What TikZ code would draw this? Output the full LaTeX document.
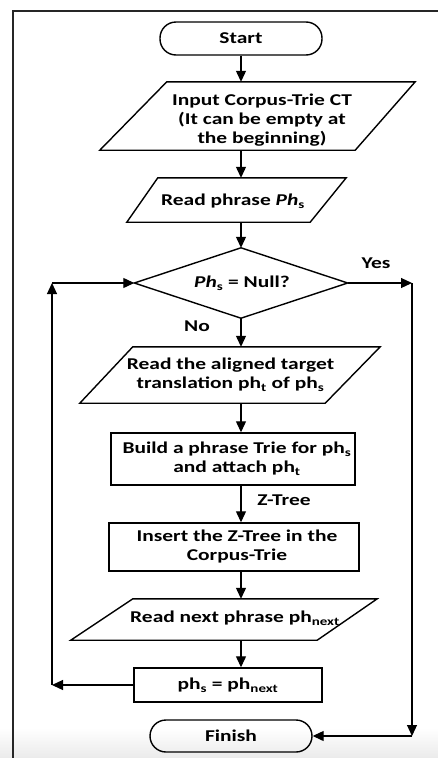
\documentclass[tikz,border=0pt]{standalone}
\usepackage{fontspec}
\setmainfont{Carlito}[FakeStretch=1.3]
\usetikzlibrary{arrows.meta,calc}

\begin{document}
\begin{tikzpicture}[x=1pt,y=-1pt,
  every node/.style={font=\bfseries\fontsize{16.5}{19}\selectfont, align=center, inner sep=0pt},
  box/.style={draw, line width=1.4pt},
  term/.style={draw, line width=1.4pt, rounded corners=16pt},
  frame/.style={},
  outline/.style={line width=1.4pt, line join=miter},
  edge/.style={line width=1.2pt, -{Triangle[length=11pt,width=10pt]}},
  lbl/.style={}
]
\useasboundingbox (0,0) rectangle (438,758);

% faint shading along the bottom edge
\shade[top color=white, bottom color=black!8] (0,728) rectangle (438,758);

% page border (top and left)
\draw[line width=2pt, black!85] (13,758) -- (13,10.5) -- (438,10.5);

% terminals
\node[term, minimum width=162pt, minimum height=33pt] (start) at (241,38.5) {Start};
\node[term, minimum width=162pt, minimum height=32pt] (finish) at (231,736) {Finish};

% input parallelogram
\node[frame, minimum width=315pt, minimum height=68pt] (input) at (257.5,116) {};
\draw[outline] ($(input.north west)+(67,0)$) -- (input.north east)
  -- ($(input.south east)+(-60,0)$) -- (input.south west) -- cycle;
\node (inputtext) at (262,120) {Input Corpus-Trie CT\\(It can be empty at\\the beginning)};

% read phrase parallelogram
\node[frame, minimum width=219pt, minimum height=44pt] (read) at (236.5,200) {};
\draw[outline] ($(read.north west)+(31,0)$) -- (read.north east)
  -- ($(read.south east)+(-36,0)$) -- (read.south west) -- cycle;
\node (readtext) at (233,201) {Read phrase \textit{Ph}\textsubscript{s}};

% decision
\node[frame, minimum width=213pt, minimum height=70pt] (dec) at (241,283) {};
\draw[outline] (dec.north) -- (dec.east) -- (dec.south) -- (dec.west) -- cycle;
\node (dectext) at (242,283) {\textit{Ph}\textsubscript{s} = Null?};

% aligned translation parallelogram
\node[frame, minimum width=300pt, minimum height=56pt] (aligned) at (230,375) {};
\draw[outline] ($(aligned.north west)+(53,0)$) -- (aligned.north east)
  -- ($(aligned.south east)+(-55,0)$) -- (aligned.south west) -- cycle;
\node (alignedtext) at (230.5,375) {Read the aligned target\\translation ph\textsubscript{t} of ph\textsubscript{s}};

% process boxes
\node[box, minimum width=244pt, minimum height=52pt] (build) at (233,459)
  {\hspace{8pt}Build a phrase Trie for ph\textsubscript{s}\\\hspace{8pt}and attach ph\textsubscript{t}};
\node[box, minimum width=250pt, minimum height=48pt] (insert) at (234,547)
  {\hspace{6pt}Insert the Z-Tree in the\\\hspace{6pt}Corpus-Trie};

% read next parallelogram
\node[frame, minimum width=306pt, minimum height=41pt] (next) at (224,619.5) {};
\draw[outline] ($(next.north west)+(62,0)$) -- (next.north east)
  -- ($(next.south east)+(-60,0)$) -- (next.south west) -- cycle;
\node (nexttext) at (235,618) {Read next phrase ph\textsubscript{next}};

\node[box, minimum width=188pt, minimum height=34pt] (phs) at (228,685)
  {ph\textsubscript{s} = ph\textsubscript{next}};

% main column connectors
\draw[edge] (start.south) -- (start.south |- input.north);
\draw[edge] (input.south -| dec) -- (read.north -| dec);
\draw[edge] (read.south -| dec) -- (dec.north);
\draw[edge] (dec.south) -- (aligned.north -| dec);
\draw[edge] (aligned.south -| dec) -- (build.north -| dec);
\draw[edge] (build.south -| dec) -- (insert.north -| dec);
\draw[edge] (insert.south -| dec) -- (next.north -| dec);
\draw[edge] (next.south -| dec) -- (phs.north -| dec);

% labels
\node[lbl] (yeslbl) at (376,263) {Yes};
\node[lbl] (nolbl) at (197,326) {No};
\node[lbl] (ztree) at (284,500) {Z-Tree};

% yes branch to finish
\coordinate (yescorner) at (412,283);
\coordinate (fincorner) at (yescorner |- finish);
\draw[edge] (dec.east) -- (yescorner);
\draw[edge] (yescorner) -- (fincorner);
\draw[edge] (fincorner) -- (finish.east);

% loop back to decision
\coordinate (loopbot) at (52,685);
\coordinate (looptop) at (loopbot |- dec.west);
\draw[edge] (phs.west) -- (loopbot);
\draw[edge] (loopbot) -- (looptop);
\draw[edge] (looptop) -- (dec.west);
\end{tikzpicture}
\end{document}
